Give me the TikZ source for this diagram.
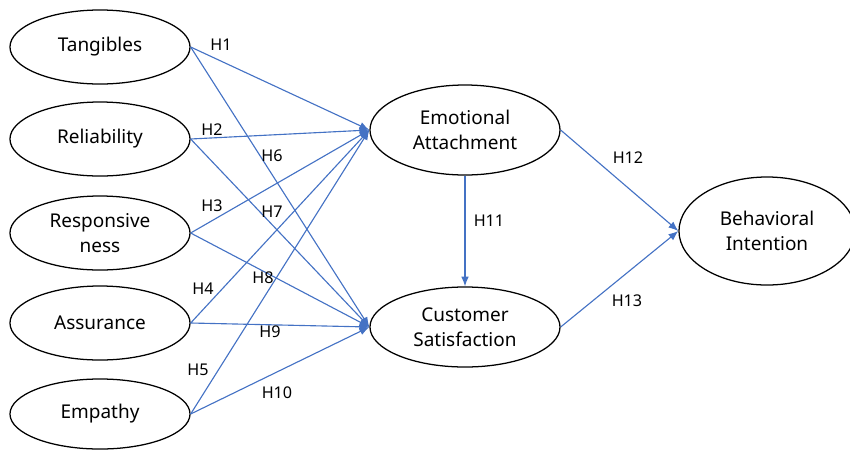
\documentclass[tikz,border=0pt]{standalone}
\usepackage{fontspec}
\setmainfont{Noto Sans}
\usepackage{xcolor}
\usetikzlibrary{arrows.meta}
\usetikzlibrary{shapes.geometric}

\definecolor{hypblue}{HTML}{4472C4}

\begin{document}
\begin{tikzpicture}[x=0.025cm, y=-0.025cm,
  construct/.style={draw, ellipse, line width=0.9pt, inner sep=0pt, align=center,
    minimum width=4.5cm, minimum height=1.85cm, font=\fontsize{13.5}{17.5}\selectfont},
  hyparrow/.style={-{Latex[length=7pt,width=5.5pt]}, hypblue, line width=0.8pt},
  hlabel/.style={font=\fontsize{11.5}{13}\selectfont}]

\useasboundingbox (0,0) rectangle (850,449);

% exogenous constructs
\node[construct] (tang) at (100,47) {Tangibles};
\node[construct] (reli) at (100,139) {Reliability};
\node[construct] (resp) at (100,233) {Responsive\\ness};
\node[construct] (assu) at (100,323) {Assurance};
\node[construct, minimum height=1.75cm] (empa) at (100,414) {Empathy};

% mediators and outcome
\node[construct, minimum width=4.75cm, minimum height=2.25cm] (emo) at (465,130) {Emotional\\Attachment};
\node[construct, minimum width=4.75cm, minimum height=2cm] (sat) at (465,327) {Customer\\Satisfaction};
\node[construct, minimum width=4.4cm, minimum height=2.7cm] (beh) at (767,231) {Behavioral\\Intention};

% H1--H5
\draw[hyparrow] (tang.east) -- (emo.west);
\draw[hyparrow] (reli.east) -- (emo.west);
\draw[hyparrow] (resp.east) -- (emo.west);
\draw[hyparrow] (assu.east) -- (emo.west);
\draw[hyparrow] (empa.east) -- (emo.west);

% H6--H10
\draw[hyparrow] (tang.east) -- (sat.west);
\draw[hyparrow] (reli.east) -- (sat.west);
\draw[hyparrow] (resp.east) -- (sat.west);
\draw[hyparrow] (assu.east) -- (sat.west);
\draw[hyparrow] (empa.east) -- (sat.west);

% H11--H13
\draw[hyparrow] (emo.south) -- (sat.north);
\draw[hyparrow] (emo.east) -- (beh.west);
\draw[hyparrow] (sat.east) -- (beh.west);

\node[hlabel] (h1) at (221,45) {H1};
\node[hlabel] (h2) at (212,130) {H2};
\node[hlabel] (h3) at (212,206) {H3};
\node[hlabel] (h4) at (203,289) {H4};
\node[hlabel] (h5) at (198,370) {H5};
\node[hlabel] (h6) at (272,156) {H6};
\node[hlabel] (h7) at (272,212) {H7};
\node[hlabel] (h8) at (263,278) {H8};
\node[hlabel] (h9) at (270,332) {H9};
\node[hlabel] (h10) at (277,393) {H10};
\node[hlabel] (h11) at (489,221) {H11};
\node[hlabel] (h12) at (628,158) {H12};
\node[hlabel] (h13) at (627,301) {H13};

\end{tikzpicture}
\end{document}
